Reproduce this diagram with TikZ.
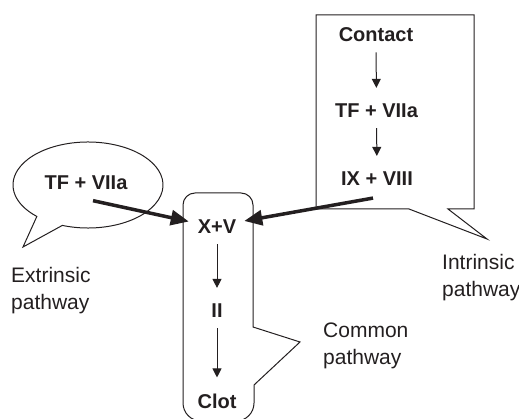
\documentclass[tikz,border=0pt]{standalone}
\usepackage{fontspec}
\setmainfont{Liberation Sans}
\usepackage{tikz}
\usetikzlibrary{arrows.meta}
\definecolor{inkBlack}{HTML}{231F20}
\tikzset{
  factor/.style={font=\fontsize{20}{24}\selectfont\bfseries,text=inkBlack,inner sep=2pt},
  pathlabel/.style={font=\fontsize{21}{27}\selectfont,text=inkBlack,align=left,
    anchor=north west,inner sep=0pt},
  bubble/.style={draw=inkBlack,line width=1pt,line join=miter},
  arrow/.style={-{Triangle[length=9pt,width=9pt]},line width=1pt,draw=inkBlack,
    shorten <=8pt,shorten >=14pt},
  thickarrow/.style={-{Triangle[length=18pt,width=15pt]},line width=3.5pt,draw=inkBlack}
}
\begin{document}
\begin{tikzpicture}[x=1pt,y=-1pt]
      \useasboundingbox (0,0) rectangle (519,419);
      \clip (0,0) rectangle (519,419);

      % speech bubbles
      \draw[bubble] (88,185) ++(110:75 and 43)
        arc[start angle=110, end angle=-227, x radius=75, y radius=43]
        -- (23,247) -- cycle;
      \draw[bubble] (316,15) -- (474,15) -- (474,209) -- (448,209)
        -- (487,239) -- (409,209) -- (316,209) -- cycle;
      \draw[bubble] (183,403) -- (183,205)
        arc[start angle=180, end angle=270, radius=12] -- (241,193)
        arc[start angle=-90, end angle=0, radius=12] -- (253,327)
        -- (300,342) -- (254,385) -- (254,403)
        arc[start angle=0, end angle=90, radius=18] -- (201,421)
        arc[start angle=90, end angle=180, radius=18] -- cycle;

      % factors
      \node[factor] (tfe) at (86,182.5) {TF + VIIa};
      \node[factor] (contact) at (376,35) {Contact};
      \node[factor] (tfi) at (376.5,111) {TF + VIIa};
      \node[factor] (ixviii) at (377,179) {IX + VIII};
      \node[factor] (xv) at (217,227) {X+V};
      \node[factor] (ii) at (217,311) {II};
      \node[factor] (clot) at (217,401) {Clot};

      \draw[arrow] (contact) -- (tfi);
      \draw[arrow] (tfi) -- (ixviii);
      \draw[arrow] (xv) -- (ii);
      \draw[arrow] (ii) -- (clot);

      \draw[thickarrow, shorten >=7pt]
        ([shift={(7pt,-9pt)}]tfe.south) -- ([yshift=4pt]xv.west);
      \draw[thickarrow, shorten >=6pt]
        ([shift={(-4pt,-10pt)}]ixviii.south) -- ([yshift=5pt]xv.east);

      % pathway labels
      \node[pathlabel] (extr) at (11,267) {Extrinsic\\pathway};
      \node[pathlabel] (intr) at (442,254) {Intrinsic\\pathway};
      \node[pathlabel] (comm) at (323,323) {Common\\pathway};
    \end{tikzpicture}
\end{document}
